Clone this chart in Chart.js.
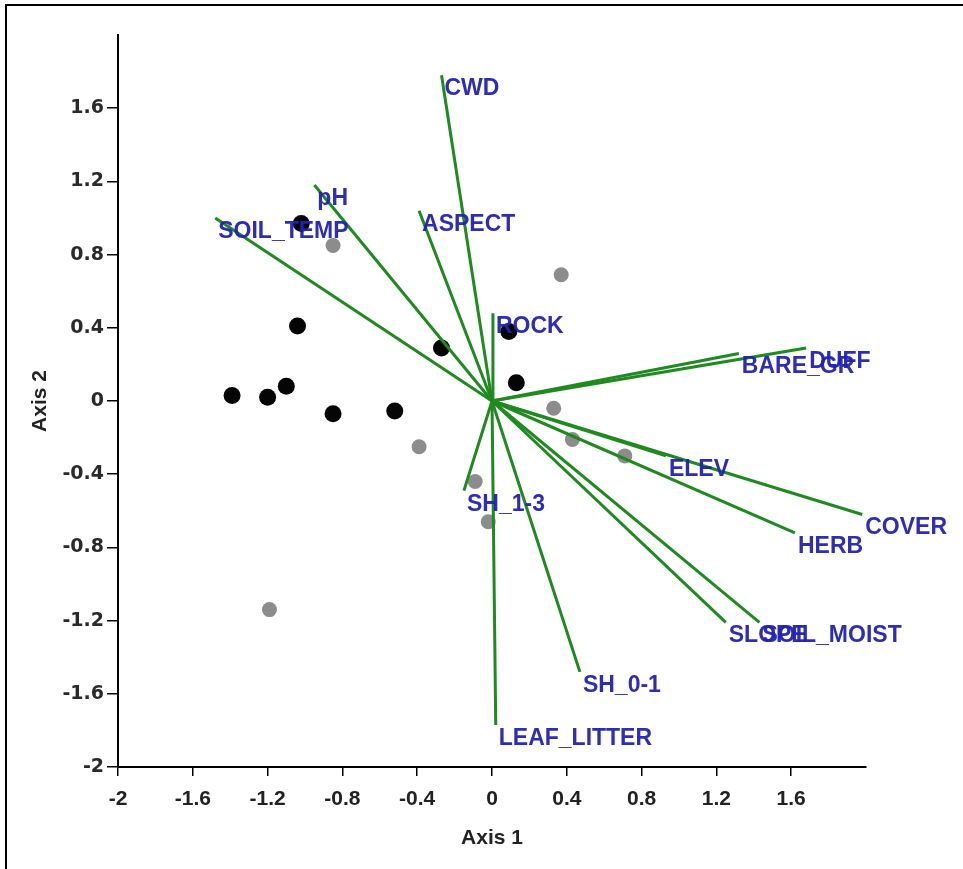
<!DOCTYPE html>
<html>
<head>
<meta charset="utf-8">
<title>Ordination biplot</title>
<script src="https://cdn.jsdelivr.net/npm/chart.js@4"></script>
<style>
  html, body { margin: 0; padding: 0; background: #fff; }
  #wrap { position: relative; width: 963px; height: 869px; overflow: hidden; background: #fff; }
  #frame { position: absolute; left: 5px; top: 4px; width: 1000px; height: 1000px;
           border-top: 2px solid #000; border-left: 2px solid #000; }
  #c { position: absolute; left: 0; top: 0; }
</style>
</head>
<body>
<div id="wrap">
  <div id="frame"></div>
  <canvas id="c" width="963" height="869"></canvas>
</div>
<script>
// ── Plot scores ──
const SITE_A_X = [-1.02, -1.04, -1.39, -1.20, -1.10, -0.85, -0.52, -0.27, 0.09, 0.13];
const SITE_A_Y = [0.97, 0.41, 0.03, 0.02, 0.08, -0.07, -0.055, 0.29, 0.38, 0.10];

const SITE_B_X = [-0.85, 0.37, -0.39, 0.33, 0.43, 0.71, -0.09, -0.02, -1.19];
const SITE_B_Y = [0.85, 0.69, -0.25, -0.04, -0.21, -0.30, -0.44, -0.66, -1.14];

// ── Environmental vectors (tips; every vector starts at the origin) ──
const VEC_NAMES = ['CWD', 'pH', 'SOIL_TEMP', 'ASPECT', 'ROCK', 'DUFF', 'BARE_GR', 'ELEV',
                   'COVER', 'HERB', 'SLOPE', 'SOIL_MOIST', 'SH_0-1', 'LEAF_LITTER', 'SH_1-3'];
const VEC_X = [-0.27, -0.95, -1.48, -0.39, 0.005, 1.68, 1.32, 0.93, 1.98, 1.62, 1.25, 1.43, 0.47, 0.02, -0.15];
const VEC_Y = [1.78, 1.18, 1.00, 1.04, 0.48, 0.29, 0.26, -0.30, -0.62, -0.72, -1.21, -1.21, -1.48, -1.77, -0.49];

const AXIS_MIN = -2, AXIS_MAX = 2, AXIS_STEP = 0.4;

const zip = (xs, ys) => xs.map((x, i) => ({ x, y: ys[i] }));

const vectorSets = VEC_NAMES.map((name, i) => ({
  type: 'line',
  label: name,
  data: [{ x: 0, y: 0 }, { x: VEC_X[i], y: VEC_Y[i] }],
  borderColor: '#1f8a1f',
  borderWidth: 3,
  pointRadius: 0,
  fill: false,
  order: 0,
}));

// names at the tip of each vector, on top of everything
const vectorLabels = {
  id: 'vectorLabels',
  afterDatasetsDraw(chart) {
    const { ctx, scales: { x, y } } = chart;
    ctx.save();
    ctx.font = 'bold 23px "Liberation Sans", Arial, sans-serif';
    ctx.fillStyle = 'rgba(34,34,178,0.95)';
    ctx.textBaseline = 'top';
    ctx.textAlign = 'left';
    VEC_NAMES.forEach((name, i) => {
      ctx.fillText(name, x.getPixelForValue(VEC_X[i]) + 3, y.getPixelForValue(VEC_Y[i]) + 2);
    });
    ctx.restore();
  }
};

const fmt = v => String(Number(v.toFixed(1)));
const dropTop = s => { s.ticks = s.ticks.filter(t => t.value < AXIS_MAX - 1e-6); };

new Chart(document.getElementById('c'), {
  type: 'scatter',
  data: {
    datasets: [
      ...vectorSets,
      { label: 'A', data: zip(SITE_A_X, SITE_A_Y), backgroundColor: '#050505', borderWidth: 0, pointRadius: 8.5, order: 1 },
      { label: 'B', data: zip(SITE_B_X, SITE_B_Y), backgroundColor: '#8c8c8c', borderWidth: 0, pointRadius: 7.5, order: 2 },
    ]
  },
  options: {
    responsive: false,
    animation: false,
    devicePixelRatio: 1,
    layout: { padding: { top: 35, right: 97, left: 0, bottom: 0 } },
    plugins: { legend: { display: false }, tooltip: { enabled: false } },
    scales: {
      x: {
        type: 'linear', min: AXIS_MIN, max: AXIS_MAX,
        afterBuildTicks: dropTop,
        afterFit: s => { s.height = 102; },
        ticks: { stepSize: AXIS_STEP, callback: fmt, color: '#222', padding: 11,
                 font: { family: '"Liberation Sans", Arial, sans-serif', size: 21, weight: 'bold' } },
        grid: { drawOnChartArea: false, drawTicks: true, tickLength: 9, color: '#000', lineWidth: 1.5 },
        border: { color: '#000', width: 2 },
        title: { display: true, text: 'Axis 1', color: '#222', padding: { top: 0, bottom: 18 },
                 font: { family: '"Liberation Sans", Arial, sans-serif', size: 21, weight: 'bold' } },
      },
      y: {
        type: 'linear', min: AXIS_MIN, max: AXIS_MAX,
        afterBuildTicks: dropTop,
        afterFit: s => { s.width = 118; },
        ticks: { stepSize: AXIS_STEP, callback: fmt, color: '#2a2a2a', padding: 3,
                 font: { family: '"DejaVu Sans", sans-serif', size: 19, weight: 'bold' } },
        grid: { drawOnChartArea: false, drawTicks: true, tickLength: 11, color: '#000', lineWidth: 1.5 },
        border: { color: '#000', width: 2 },
        title: { display: true, text: 'Axis 2', color: '#222', padding: { top: 28, bottom: 0 },
                 font: { family: '"Liberation Sans", Arial, sans-serif', size: 21, weight: 'bold' } },
      }
    }
  },
  plugins: [vectorLabels]
});
</script>
</body>
</html>
